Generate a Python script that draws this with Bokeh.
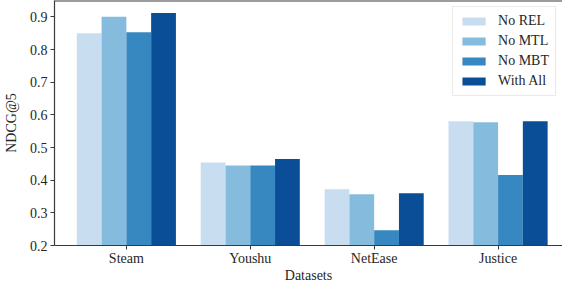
from bokeh.plotting import figure
from bokeh.models import ColumnDataSource, FixedTicker, Legend, LegendItem, Range1d, Span
from bokeh.transform import dodge
from bokeh.embed import file_html
from bokeh.resources import INLINE

categories = ["Steam", "Youshu", "NetEase", "Justice"]
series_names = ["No REL", "No MTL", "No MBT", "With All"]
no_rel = [0.850, 0.454, 0.372, 0.580]
no_mtl = [0.900, 0.445, 0.357, 0.577]
no_mbt = [0.853, 0.445, 0.247, 0.416]
with_all = [0.912, 0.465, 0.360, 0.580]
y_ticks = [0.2, 0.3, 0.4, 0.5, 0.6, 0.7, 0.8, 0.9]
colors = ["#c9ddf0", "#85bbdc", "#3787c0", "#0a4e97"]

FONT = "Liberation Serif"
TXT = "#262626"
AX = "#3a3a3a"

source = ColumnDataSource(dict(
    x=list(range(len(categories))),
    no_rel=no_rel, no_mtl=no_mtl, no_mbt=no_mbt, with_all=with_all,
))

p = figure(width=562, height=285,
           x_range=Range1d(-0.58, 3.52), y_range=Range1d(0.2, 0.95),
           output_backend="svg", toolbar_location=None,
           min_border_left=0, min_border_right=0, min_border_top=0, min_border_bottom=0,
           x_axis_label="Datasets", y_axis_label="NDCG@5")
p.outline_line_color = None
p.xgrid.visible = False
p.ygrid.visible = False
p.background_fill_color = "white"

cols = ["no_rel", "no_mtl", "no_mbt", "with_all"]
offsets = [-0.3, -0.1, 0.1, 0.3]
renderers = []
for col, off, c in zip(cols, offsets, colors):
    r = p.vbar(x=dodge("x", off), top=col, bottom=0, width=0.2, source=source,
               fill_color=c, line_color=None)
    renderers.append(r)

items = [LegendItem(label=n, renderers=[r]) for n, r in zip(series_names, renderers)]
legend = Legend(items=items, location="top_right")
legend.label_text_font = FONT
legend.label_text_font_size = "14px"
legend.label_text_color = TXT
legend.glyph_width = 29
legend.glyph_height = 10
legend.label_standoff = 10
legend.label_height = 14
legend.spacing = 4
legend.padding = 6
legend.margin = 6
legend.border_line_color = "#d6d6d6"
legend.border_line_width = 1
legend.background_fill_alpha = 0.85
p.add_layout(legend, "center")

xa = p.xaxis[0]
xa.ticker = FixedTicker(ticks=list(range(len(categories))))
xa.major_label_overrides = {i: c for i, c in enumerate(categories)}
ya = p.yaxis[0]
ya.ticker = FixedTicker(ticks=y_ticks)
ya.major_label_overrides = {t: f"{t:.1f}" for t in y_ticks}

for ax in (xa, ya):
    ax.axis_line_color = AX
    ax.axis_line_width = 1.2
    ax.major_tick_line_color = AX
    ax.major_tick_in = 0
    ax.major_tick_out = 4
    ax.minor_tick_line_color = None
    ax.major_label_text_font = FONT
    ax.major_label_text_font_size = "14px"
    ax.major_label_text_color = TXT
    ax.axis_label_text_font = FONT
    ax.axis_label_text_font_size = "14px"
    ax.axis_label_text_font_style = "normal"
    ax.axis_label_text_color = TXT
    ax.major_label_standoff = 3
xa.major_label_standoff = 1
xa.axis_label_standoff = -1
ya.axis_label_standoff = 8

top_line = Span(location=0.95, dimension="width", line_color=AX, line_width=2)
p.add_layout(top_line)

open("out.html", "w").write(file_html(p, INLINE))
